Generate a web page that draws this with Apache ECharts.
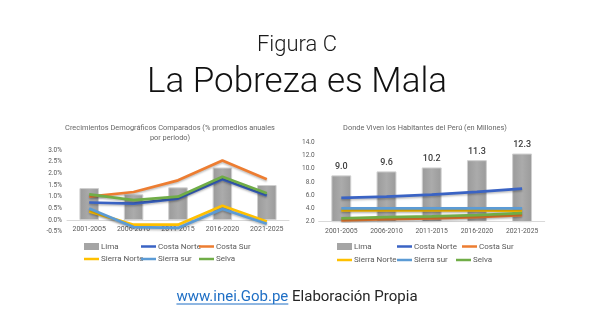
<!DOCTYPE html>
<html>
<head>
<meta charset="utf-8">
<script src="https://cdn.jsdelivr.net/npm/echarts@6/dist/echarts.min.js"></script>
<style>
  html, body { margin: 0; padding: 0; background: #ffffff; }
  #chart { width: 594px; height: 334px; }
</style>
</head>
<body>
<div id="chart"></div>
<script>
// Periods shared by both panels
const categories = ['2001-2005', '2006-2010', '2011-2015', '2016-2020', '2021-2025'];

// Left panel: average annual growth per period (%)
const limaGrowth        = [1.37, 1.1, 1.4, 2.25, 1.5];
const costaNorteGrowth  = [0.75, 0.7, 0.92, 1.75, 1.05];
const costaSurGrowth    = [1.0, 1.2, 1.7, 2.55, 1.75];
const sierraNorteGrowth = [0.37, -0.2, -0.2, 0.61, -0.06];
const sierraSurGrowth   = [0.49, -0.3, -0.34, 0.47, -0.16];
const selvaGrowth       = [1.1, 0.85, 1.0, 1.85, 1.15];

// Right panel: inhabitants per region (millions)
const limaPop        = [9.0, 9.6, 10.2, 11.3, 12.3];
const costaNortePop  = [5.6, 5.8, 6.1, 6.5, 7.0];
const costaSurPop    = [2.2, 2.4, 2.5, 2.7, 3.0];
const sierraNortePop = [3.7, 3.7, 3.7, 3.7, 3.65];
const sierraSurPop   = [4.0, 4.0, 4.0, 4.0, 4.0];
const selvaPop       = [2.5, 2.7, 2.8, 3.0, 3.3];

// Axis ticks
const growthTicks = { min: -0.5, max: 3.0, interval: 0.5 };
const popTicks = { min: 2, max: 14, interval: 2 };

const regionNames = ['Lima', 'Costa Norte', 'Costa Sur', 'Sierra Norte', 'Sierra sur', 'Selva'];
const regionColors = {
  'Lima': '#a5a5a5',
  'Costa Norte': '#3a63c4',
  'Costa Sur': '#ed7d31',
  'Sierra Norte': '#ffc000',
  'Sierra sur': '#5b9bd5',
  'Selva': '#70ad47'
};

const FONT = 'Roboto, "Noto Sans", sans-serif';
const GRAY_TEXT = '#595959';

const chart = echarts.init(document.getElementById('chart'), null, { renderer: 'canvas' });

function barSeries(name, data, axisIndex, withLabels) {
  return {
    name: name,
    type: 'bar',
    xAxisIndex: axisIndex,
    yAxisIndex: axisIndex,
    data: data,
    barWidth: '44%',
    itemStyle: {
      color: {
        type: 'linear', x: 0, y: 0, x2: 1, y2: 0,
        colorStops: [
          { offset: 0, color: '#9a9a9a' },
          { offset: 0.5, color: '#ababab' },
          { offset: 1, color: '#9a9a9a' }
        ]
      },
      borderColor: '#cfcfcf',
      borderWidth: 1
    },
    label: withLabels ? {
      show: true,
      position: 'top',
      distance: 4,
      formatter: p => p.value.toFixed(1),
      fontFamily: FONT,
      fontSize: 9,
      fontWeight: 500,
      color: '#404040'
    } : { show: false },
    z: 1
  };
}

function lineSeries(name, data, axisIndex) {
  return {
    name: name,
    type: 'line',
    xAxisIndex: axisIndex,
    yAxisIndex: axisIndex,
    data: data,
    symbol: 'none',
    lineStyle: {
      color: regionColors[name],
      width: 2.7,
      shadowColor: 'rgba(0,0,0,0.25)',
      shadowBlur: 2,
      shadowOffsetY: 1.5
    },
    itemStyle: { color: regionColors[name] },
    z: 3
  };
}

// One legend entry per component so the items line up in columns
function legendItem(name, x, y) {
  const isBar = name === 'Lima';
  return {
    data: [{ name: name, icon: 'rect' }],
    left: x,
    top: y,
    itemWidth: 15,
    itemHeight: isBar ? 7 : 2.5,
    selectedMode: false,
    itemStyle: { color: regionColors[name], borderWidth: 0 },
    textStyle: {
      fontFamily: FONT, fontSize: 8, color: GRAY_TEXT,
      padding: [0, 0, 0, -3]
    },
    padding: 0
  };
}

const leftCols = [84, 141, 199];
const rightColsRow1 = [337, 397, 462];
const rightColsRow2 = [337, 397, 456];
const legends = [];
regionNames.forEach((n, i) => {
  const row = Math.floor(i / 3), col = i % 3;
  legends.push(legendItem(n, leftCols[col], row === 0 ? 242.5 : 255));
  legends.push(legendItem(n, row === 0 ? rightColsRow1[col] : rightColsRow2[col], row === 0 ? 242.5 : 256));
});

const grids = [
  { left: 67, top: 150, width: 222, height: 81.7 },
  { left: 318.7, top: 142.3, width: 226, height: 79.4 }
];

// Category axis sits on the zero line of its value axis
function catAxis(gridIndex, ticks, fontSize, margin) {
  const g = grids[gridIndex];
  const zeroShift = Math.max(0, -ticks.min) / (ticks.max - ticks.min) * g.height;
  return {
    type: 'category',
    gridIndex: gridIndex,
    data: categories,
    offset: -zeroShift,
    axisLine: { show: true, onZero: false, lineStyle: { color: '#d9d9d9', width: 1 } },
    axisTick: { show: false },
    axisLabel: { fontFamily: FONT, fontSize: fontSize, color: GRAY_TEXT, margin: margin, interval: 0 },
    z: 2
  };
}

function valAxis(gridIndex, ticks, formatter, margin) {
  return {
    type: 'value',
    gridIndex: gridIndex,
    min: ticks.min,
    max: ticks.max,
    interval: ticks.interval,
    axisLine: { show: false },
    axisTick: { show: false },
    splitLine: { show: false },
    axisLabel: { fontFamily: FONT, fontSize: 6.5, color: GRAY_TEXT, margin: margin, formatter: formatter }
  };
}

const option = {
  animation: false,
  backgroundColor: '#ffffff',
  grid: grids,
  xAxis: [catAxis(0, growthTicks, 7, 6), catAxis(1, popTicks, 6.8, 6)],
  yAxis: [
    valAxis(0, growthTicks, v => v.toFixed(1) + '%', 5),
    valAxis(1, popTicks, v => v.toFixed(1), 4)
  ],
  legend: legends,
  series: [
    barSeries('Lima', limaGrowth, 0, false),
    lineSeries('Costa Norte', costaNorteGrowth, 0),
    lineSeries('Costa Sur', costaSurGrowth, 0),
    lineSeries('Sierra Norte', sierraNorteGrowth, 0),
    lineSeries('Sierra sur', sierraSurGrowth, 0),
    lineSeries('Selva', selvaGrowth, 0),
    barSeries('Lima', limaPop, 1, true),
    lineSeries('Costa Norte', costaNortePop, 1),
    lineSeries('Costa Sur', costaSurPop, 1),
    lineSeries('Sierra Norte', sierraNortePop, 1),
    lineSeries('Sierra sur', sierraSurPop, 1),
    lineSeries('Selva', selvaPop, 1)
  ],
  graphic: []
};

// Headings, panel titles and source line
const texts = [
  { text: 'Figura C', x: 297, y: 45, size: 22, weight: 300, color: '#1a1a1a' },
  { text: 'La Pobreza es Mala', x: 297, y: 83, size: 35, weight: 300, color: '#111111' },
  { text: 'Crecimientos Demográficos Comparados (% promedios anuales', x: 170, y: 128.5, size: 7.4, weight: 400, color: '#666666' },
  { text: 'por periodo)', x: 170, y: 138, size: 7.4, weight: 400, color: '#666666' },
  { text: 'Donde Viven los Habitantes del Perú (en Millones)', x: 425, y: 128.5, size: 7.4, weight: 400, color: '#666666' }
];
texts.forEach(t => {
  option.graphic.push({
    type: 'text', x: t.x, y: t.y, silent: true,
    style: {
      text: t.text, align: 'center', verticalAlign: 'middle',
      fontFamily: FONT, fontSize: t.size, fontWeight: t.weight, fill: t.color
    }
  });
});

// Source line: link part plus plain text, centred together
const linkText = 'www.inei.Gob.pe';
const restText = ' Elaboración Propia';
const footSize = 15;
const measure = document.createElement('canvas').getContext('2d');
measure.font = '400 ' + footSize + 'px ' + FONT;
const linkW = measure.measureText(linkText).width;
const restW = measure.measureText(restText).width;
const footX = 297 - (linkW + restW) / 2;
const footY = 297;
option.graphic.push(
  { type: 'text', x: footX, y: footY, silent: true,
    style: { text: linkText, align: 'left', verticalAlign: 'middle', fontFamily: FONT, fontSize: footSize, fill: '#1f6fc5' } },
  { type: 'line', silent: true,
    shape: { x1: footX, y1: footY + 7, x2: footX + linkW, y2: footY + 7 },
    style: { stroke: '#1f6fc5', lineWidth: 1 } },
  { type: 'text', x: footX + linkW, y: footY, silent: true,
    style: { text: restText, align: 'left', verticalAlign: 'middle', fontFamily: FONT, fontSize: footSize, fill: '#262626' } }
);

chart.setOption(option);
</script>
</body>
</html>
